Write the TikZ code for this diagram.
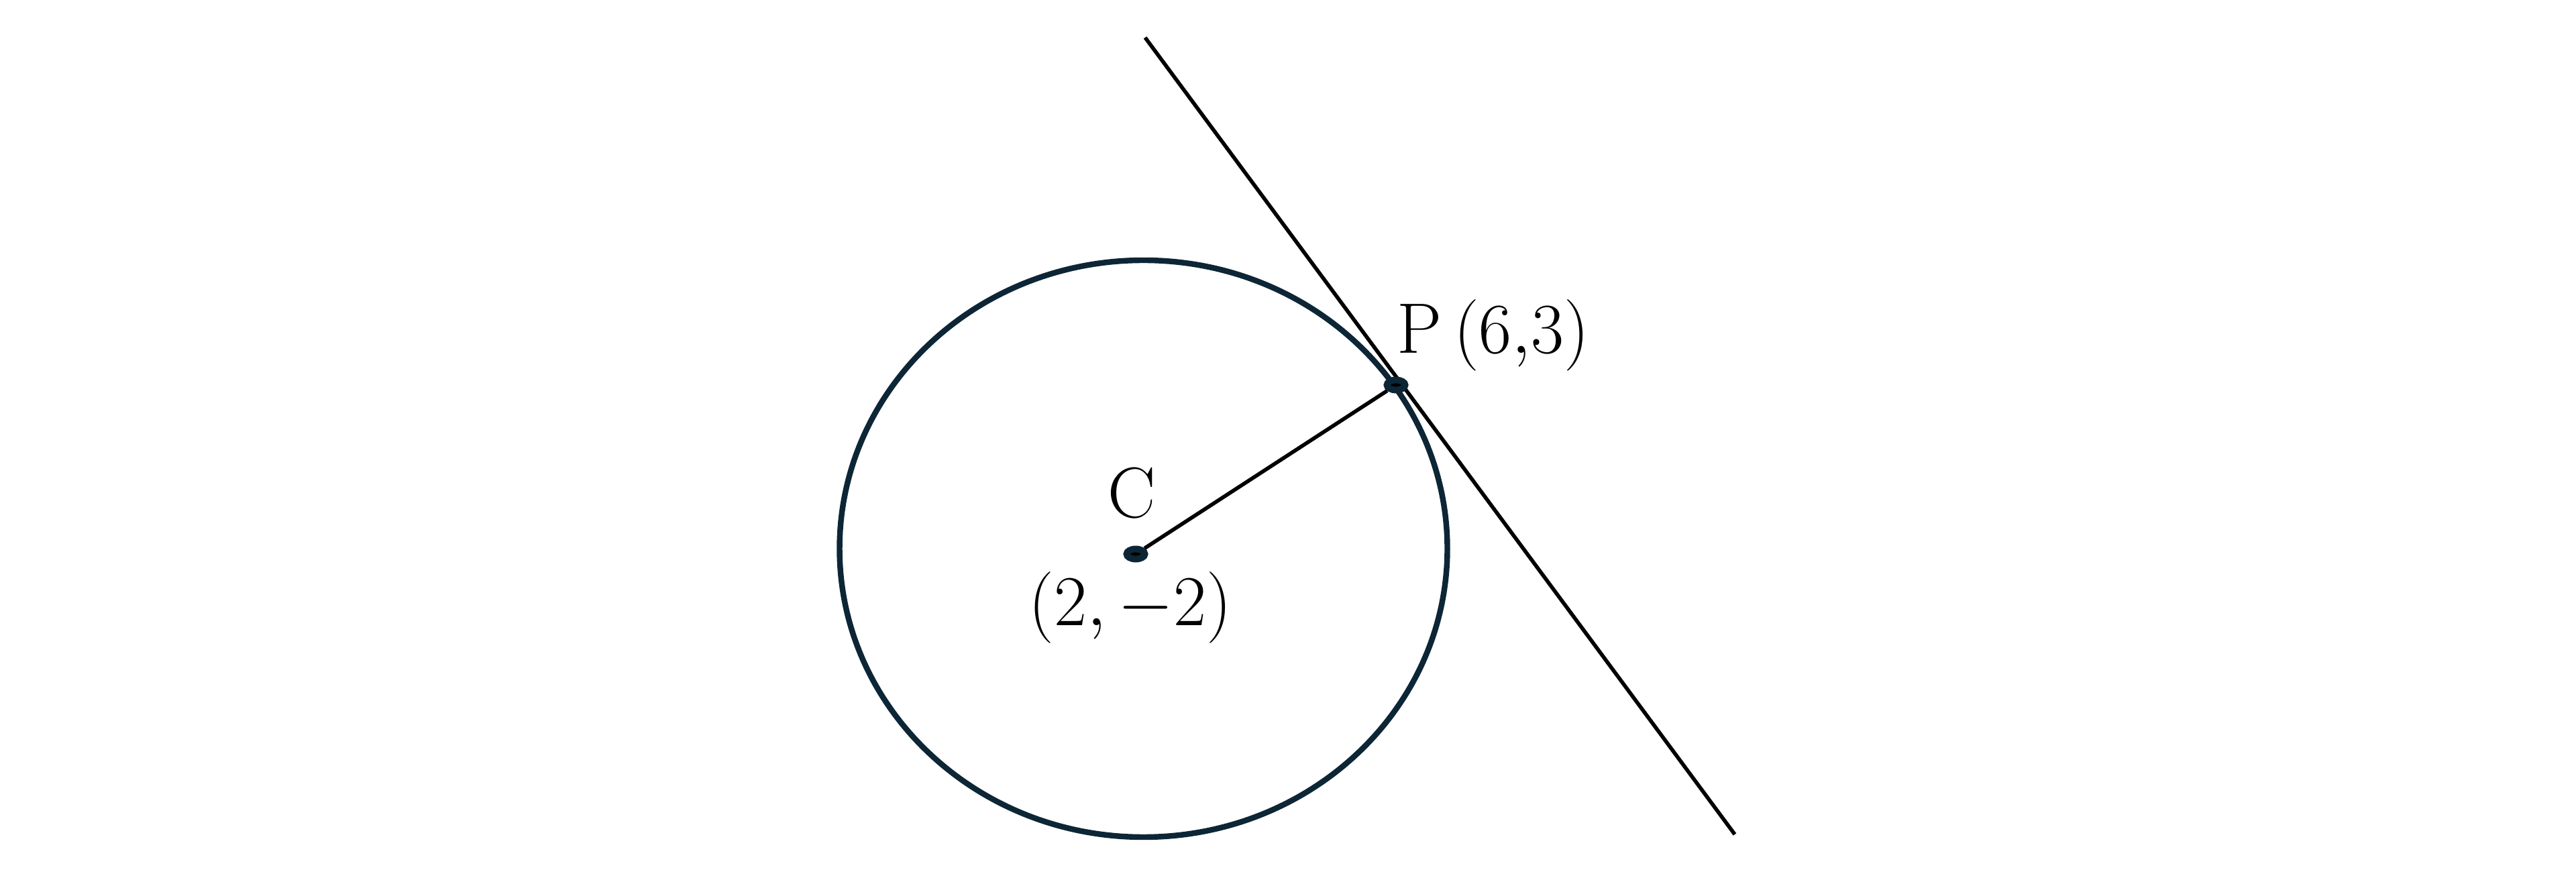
\documentclass[tikz,border=0pt]{standalone}
\usepackage{amsmath}
\usetikzlibrary{shapes.geometric}
\definecolor{navy}{HTML}{0D2636}

\begin{document}
\begin{tikzpicture}[lab/.style={font=\Huge, scale=1.22},
    pt/.style={ellipse, draw=navy, fill=black, line width=2.8pt, minimum width=0.27cm, minimum height=0.15cm, inner sep=0pt}]
    \useasboundingbox (0,0) rectangle (38.4,13.02);
    \draw[navy, line width=2.4pt] (17.045,4.84) ellipse [x radius=4.53, y radius=4.30];
    \coordinate (top) at (17.07,12.46);
    \coordinate (bot) at (25.86,0.58);
    \draw[line width=1.6pt] (top) -- (bot);
    \node[pt] (C) at (16.93,4.76) {};
    \node[pt] (P) at (20.81,7.28) {};
    \draw[line width=1.6pt] (C) -- (P);
    \node[lab] (Clab) at (16.87,5.67) {$\mathrm{C}$};
    \node[lab] (Ccoord) at (16.85,3.96) {$(2,-2)$};
    \node[lab] (Plab) at (22.26,8.02) {$\mathrm{P}\,(6{,}3)$};
\end{tikzpicture}
\end{document}
